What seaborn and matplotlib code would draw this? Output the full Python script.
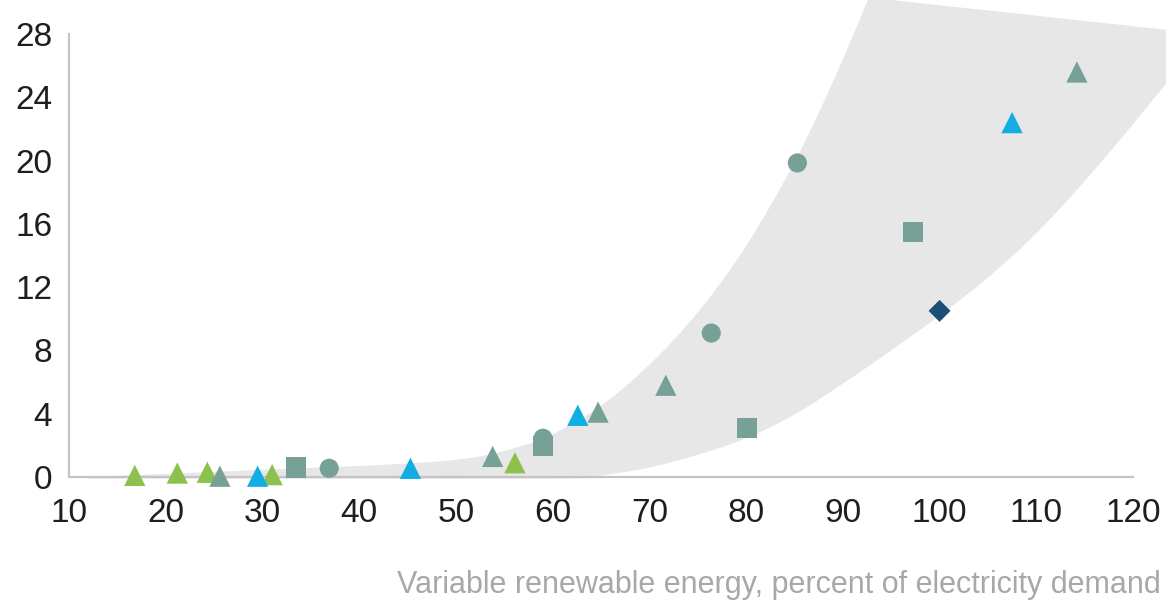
import matplotlib
matplotlib.use("Agg")
import matplotlib.pyplot as plt
from matplotlib.path import Path
from matplotlib.patches import PathPatch
import seaborn as sns
import pandas as pd

# Observations: renewable share (x, % of demand) vs. value (y), by group
green_tri_x = [16.8, 21.2, 24.3, 31.0, 56.1]
green_tri_y = [0.1, 0.25, 0.3, 0.15, 0.9]

teal_tri_x = [25.6, 53.8, 64.7, 71.7, 114.2]
teal_tri_y = [0.05, 1.3, 4.1, 5.8, 25.6]

blue_tri_x = [29.5, 45.3, 62.6, 107.5]
blue_tri_y = [0.05, 0.55, 3.9, 22.4]

teal_sq_x = [33.5, 59.0, 80.1, 97.3]
teal_sq_y = [0.6, 1.95, 3.1, 15.5]

teal_circ_x = [36.9, 59.0, 76.4, 85.3]
teal_circ_y = [0.55, 2.45, 9.1, 19.85]

navy_dia_x = [100.0]
navy_dia_y = [10.5]

# Shaded envelope: upper edge, end cap, lower edge (traced as one outline)
band_upper_x = [12, 30, 45, 52, 57, 60, 65, 70, 75, 80, 85, 89, 92.7]
band_upper_y = [0.0, 0.45, 0.85, 1.25, 2.0, 2.7, 4.5, 7.1, 10.4, 14.6, 19.9, 25.0, 30.3]
band_cap_x = [126.0]
band_cap_y = [28.1]
band_lower_x = [126.0, 120.0, 115.0, 110.0, 105.0, 100.0, 95.0, 90.0, 85.0, 80.0,
                75.0, 70.0, 65.0, 60.0, 12.0]
band_lower_y = [26.8, 22.3, 18.7, 15.4, 12.6, 10.2, 8.0, 5.9, 3.95, 2.45,
                1.4, 0.6, 0.1, -0.1, -0.1]

x_ticks = [10, 20, 30, 40, 50, 60, 70, 80, 90, 100, 110, 120]
y_ticks = [0, 4, 8, 12, 16, 20, 24, 28]
x_title = "Variable renewable energy, percent of electricity demand"

groups = {
    "g_tri": (green_tri_x, green_tri_y),
    "t_tri": (teal_tri_x, teal_tri_y),
    "b_tri": (blue_tri_x, blue_tri_y),
    "t_sq": (teal_sq_x, teal_sq_y),
    "t_circ": (teal_circ_x, teal_circ_y),
    "n_dia": (navy_dia_x, navy_dia_y),
}
rows = []
for name, (xs, ys) in groups.items():
    for xv, yv in zip(xs, ys):
        rows.append({"x": xv, "y": yv, "group": name})
df = pd.DataFrame(rows)

palette = {"g_tri": "#8dc04c", "t_tri": "#77a197", "b_tri": "#10aee3",
           "t_sq": "#77a197", "t_circ": "#77a197", "n_dia": "#1b4f76"}
markers = {"g_tri": "^", "t_tri": "^", "b_tri": "^",
           "t_sq": "s", "t_circ": "o", "n_dia": "D"}
sizes = {"g_tri": 235, "t_tri": 235, "b_tri": 235,
         "t_sq": 210, "t_circ": 190, "n_dia": 125}


def smooth_path(xs, ys):
    """Catmull-Rom curve through the given vertices, as cubic Bezier segments."""
    pts = list(zip(xs, ys))
    verts = [pts[0]]
    codes = [Path.MOVETO]
    n = len(pts)
    for i in range(n - 1):
        p0 = pts[i - 1] if i > 0 else pts[i]
        p1 = pts[i]
        p2 = pts[i + 1]
        p3 = pts[i + 2] if i + 2 < n else pts[i + 1]
        c1 = (p1[0] + (p2[0] - p0[0]) / 6, p1[1] + (p2[1] - p0[1]) / 6)
        c2 = (p2[0] - (p3[0] - p1[0]) / 6, p2[1] - (p3[1] - p1[1]) / 6)
        verts += [c1, c2, p2]
        codes += [Path.CURVE4] * 3
    return verts, codes


sns.set_style("white")
plt.rcParams["font.family"] = ["Liberation Sans", "DejaVu Sans"]

fig = plt.figure(figsize=(11.66, 6.03), dpi=100)
ax = fig.add_axes([69 / 1166, 126 / 603, 1064 / 1166, 443 / 603])

# Envelope: smooth upper edge, straight cap, smooth lower edge
up_v, up_c = smooth_path(band_upper_x, band_upper_y)
lo_v, lo_c = smooth_path(band_lower_x, band_lower_y)
verts = up_v + list(zip(band_cap_x, band_cap_y)) + lo_v + [up_v[0]]
codes = up_c + [Path.LINETO] * len(band_cap_x) + [Path.LINETO] + lo_c[1:] + [Path.CLOSEPOLY]
band = PathPatch(Path(verts, codes), facecolor="#e7e7e7", lw=0, zorder=1,
                 transform=ax.transData, clip_on=False)
ax.add_patch(band)

sns.scatterplot(data=df, x="x", y="y", hue="group", style="group", size="group",
                palette=palette, markers=markers, sizes=sizes,
                linewidth=0, alpha=1, legend=False, ax=ax, zorder=4, clip_on=False)

ax.set_xlim(10, 120)
ax.set_ylim(0, 28)
ax.set_xticks(x_ticks)
ax.set_yticks(y_ticks)

for side in ["top", "right"]:
    ax.spines[side].set_visible(False)
for side in ["left", "bottom"]:
    ax.spines[side].set_color("#c4c4c4")
    ax.spines[side].set_linewidth(1.6)
    ax.spines[side].set_zorder(3)

ax.tick_params(axis="both", direction="in", length=8, width=1.2, color="#c4c4c4",
               labelsize=24, labelcolor="#1e1e1e")
ax.tick_params(axis="x", pad=15)
ax.tick_params(axis="y", pad=12)

ax.set_xlabel(x_title, fontsize=22, color="#a8a8a8", ha="right", va="center")
ax.xaxis.set_label_coords((1161 - 69) / 1064, (477 - 585) / 443)
ax.set_ylabel("")

fig.savefig("out.png", dpi=100, facecolor="white")
